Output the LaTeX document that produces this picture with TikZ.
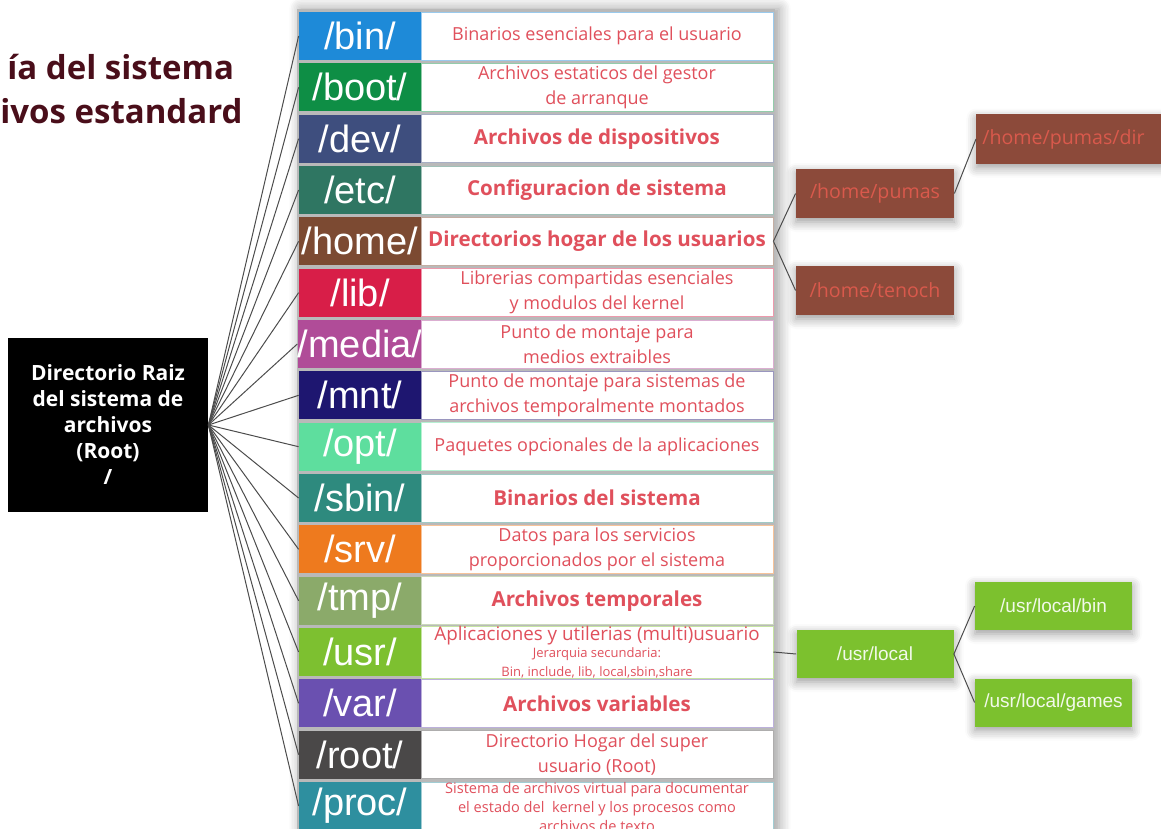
\documentclass[tikz,border=0pt]{standalone}
\usepackage{fontspec}
\setmainfont{Open Sans}
\newfontfamily\arialfont{Liberation Sans}
\usetikzlibrary{shadows.blur}

\definecolor{titlecol}{HTML}{4A0E1A}
\definecolor{desctext}{HTML}{E0505C}
\definecolor{bincol}{HTML}{1E8AD8}
\definecolor{bootcol}{HTML}{0E8E45}
\definecolor{devcol}{HTML}{3E4E7E}
\definecolor{etccol}{HTML}{2F7662}
\definecolor{homecol}{HTML}{7C4A32}
\definecolor{libcol}{HTML}{D81E48}
\definecolor{mediacol}{HTML}{B04C98}
\definecolor{mntcol}{HTML}{1E1670}
\definecolor{optcol}{HTML}{5EDE9E}
\definecolor{sbincol}{HTML}{2E8A7E}
\definecolor{srvcol}{HTML}{EE7A1E}
\definecolor{tmpcol}{HTML}{8BAA6A}
\definecolor{usrcol}{HTML}{7DC030}
\definecolor{varcol}{HTML}{6A50B0}
\definecolor{rootcol}{HTML}{4A4848}
\definecolor{proccol}{HTML}{2E8F9F}
\definecolor{subhome}{HTML}{8C4A3A}
\definecolor{subhometext}{HTML}{D9594C}
\definecolor{subusr}{HTML}{7CC12E}

\tikzset{
  dirname/.style={fill=#1, minimum width=61pt, minimum height=24pt, inner sep=0pt,
    text=white, font=\arialfont\fontsize{19}{20}\selectfont},
  dirdesc/.style={draw=#1!45, fill=white, minimum width=176pt, minimum height=24pt,
    inner sep=0pt, align=center, text=desctext, font=\fontsize{9}{12.5}\selectfont},
  descbig/.style={font=\bfseries\fontsize{10.3}{12}\selectfont},
  homebox/.style={fill=subhome, text=subhometext, minimum width=79pt, minimum height=24.5pt,
    inner sep=0pt, font=\fontsize{9.8}{11}\selectfont,
    blur shadow={shadow blur steps=6, shadow xshift=0pt, shadow yshift=-2pt, shadow blur radius=5pt}},
  usrbox/.style={fill=subusr, text=white!90!subusr, minimum width=78.5pt, minimum height=24pt,
    inner sep=0pt, font=\arialfont\fontsize{9.5}{11}\selectfont,
    blur shadow={shadow blur steps=6, shadow xshift=0pt, shadow yshift=-2pt, shadow blur radius=5pt}},
  link/.style={draw, black!70, line width=0.5pt}
}

\begin{document}
\begin{tikzpicture}[x=0.5pt, y=-0.5pt]
\useasboundingbox (0,0) rectangle (1161,829);
\clip (0,0) rectangle (1161,829);

% title, cut by the left edge
\node[anchor=west, inner sep=0pt, text=titlecol, font=\bfseries\fontsize{16.5}{18}\selectfont] (title1) at (7,67) {ía del sistema};
\node[anchor=west, inner sep=0pt, text=titlecol, font=\bfseries\fontsize{16.5}{18}\selectfont] (title2) at (0,111) {ivos estandard};

% table background
\path[fill=gray!55, blur shadow={shadow blur steps=8, shadow xshift=2pt, shadow yshift=0pt, shadow blur radius=6pt}] (297,9) rectangle (775,840);

% root
\node[fill=black, text=white, minimum width=100pt, minimum height=87pt, inner sep=0pt, align=center,
  font=\bfseries\fontsize{10.5}{13}\selectfont] (root) at (108,425)
  {Directorio Raiz\\del sistema de\\archivos\\(Root)\\/};

% name column
\node[dirname=bincol] (bin) at (360,36) {/bin/};
\node[dirname=bootcol] (boot) at (360,87.3) {/boot/};
\node[dirname=devcol] (dev) at (360,138.7) {/dev/};
\node[dirname=etccol] (etc) at (360,190) {/etc/};
\node[dirname=homecol] (home) at (360,241.3) {/home/};
\node[dirname=libcol] (lib) at (360,292.7) {/lib/};
\node[dirname=mediacol] (media) at (360,344) {/media/};
\node[dirname=mntcol] (mnt) at (360,395.3) {/mnt/};
\node[dirname=optcol] (opt) at (360,446.7) {/opt/};
\node[dirname=sbincol] (sbin) at (360,498) {/sbin/};
\node[dirname=srvcol] (srv) at (360,549.3) {/srv/};
\node[dirname=tmpcol] (tmp) at (360,600.7) {/tmp/};
\node[dirname=usrcol] (usr) at (360,652) {/usr/};
\node[dirname=varcol] (var) at (360,703.3) {/var/};
\node[dirname=rootcol] (rootdir) at (360,754.7) {/root/};
\node[dirname=proccol] (proc) at (360,806) {/proc/};

% description column
\node[dirdesc=bincol] (bindesc) at (597,36) {Binarios esenciales para el usuario};
\node[dirdesc=bootcol] (bootdesc) at (597,87.3) {Archivos estaticos del gestor\\de arranque};
\node[dirdesc=devcol, descbig] (devdesc) at (597,138.7) {Archivos de dispositivos};
\node[dirdesc=etccol, descbig] (etcdesc) at (597,190) {Configuracion de sistema};
\node[dirdesc=homecol, descbig] (homedesc) at (597,241.3) {Directorios hogar de los usuarios};
\node[dirdesc=libcol] (libdesc) at (597,292.7) {Librerias compartidas esenciales\\y modulos del kernel};
\node[dirdesc=mediacol] (mediadesc) at (597,344) {Punto de montaje para\\medios extraibles};
\node[dirdesc=mntcol] (mntdesc) at (597,395.3) {Punto de montaje para sistemas de\\archivos temporalmente montados};
\node[dirdesc=optcol] (optdesc) at (597,446.7) {Paquetes opcionales de la aplicaciones};
\node[dirdesc=sbincol, descbig] (sbindesc) at (597,498) {Binarios del sistema};
\node[dirdesc=srvcol] (srvdesc) at (597,549.3) {Datos para los servicios\\proporcionados por el sistema};
\node[dirdesc=tmpcol, descbig] (tmpdesc) at (597,600.7) {Archivos temporales};
\node[dirdesc=usrcol] (usrdesc) at (597,652) {{\fontsize{9.4}{10}\selectfont Aplicaciones y utilerias (multi)usuario}\\[-4pt]
  {\fontsize{6.5}{7}\selectfont Jerarquia secundaria:}\\[-3pt]{\fontsize{6.5}{7}\selectfont Bin, include, lib, local,sbin,share}};
\node[dirdesc=varcol, descbig] (vardesc) at (597,703.3) {Archivos variables};
\node[dirdesc=rootcol] (rootdesc) at (597,754.7) {Directorio Hogar del super\\usuario (Root)};
\node[dirdesc=proccol, font=\fontsize{7.3}{9.3}\selectfont] (procdesc) at (597,807) {Sistema de archivos virtual para documentar\\el estado del \ kernel y los procesos como\\archivos de texto};

% subdirectories
\node[homebox] (pumas) at (875,193.5) {/home/pumas};
\node[homebox] (tenoch) at (875,290.5) {/home/tenoch};
\node[homebox, anchor=west, inner xsep=3pt, text width=87pt, align=left] (pumasdir) at (976,139) {/home/pumas/dir};
\node[usrbox] (local) at (875,654) {/usr/local};
\node[usrbox] (localbin) at (1053.5,606) {/usr/local/bin};
\node[usrbox] (localgames) at (1053.5,702.5) {/usr/local/games};

% links from the root
\path[link] (root.east) -- (bin.west);
\path[link] (root.east) -- (boot.west);
\path[link] (root.east) -- (dev.west);
\path[link] (root.east) -- (etc.west);
\path[link] (root.east) -- (home.west);
\path[link] (root.east) -- (lib.west);
\path[link] (root.east) -- (media.west);
\path[link] (root.east) -- (mnt.west);
\path[link] (root.east) -- (opt.west);
\path[link] (root.east) -- (sbin.west);
\path[link] (root.east) -- (srv.west);
\path[link] (root.east) -- (tmp.west);
\path[link] (root.east) -- (usr.west);
\path[link] (root.east) -- (var.west);
\path[link] (root.east) -- (rootdir.west);
\path[link] (root.east) -- (proc.west);

% links to the subdirectories
\path[link] (homedesc.east) -- (pumas.west);
\path[link] (homedesc.east) -- (tenoch.west);
\path[link] (pumas.east) -- (pumasdir.west);
\path[link] (usrdesc.east) -- (local.west);
\path[link] (local.east) -- (localbin.west);
\path[link] (local.east) -- (localgames.west);
\end{tikzpicture}
\end{document}
